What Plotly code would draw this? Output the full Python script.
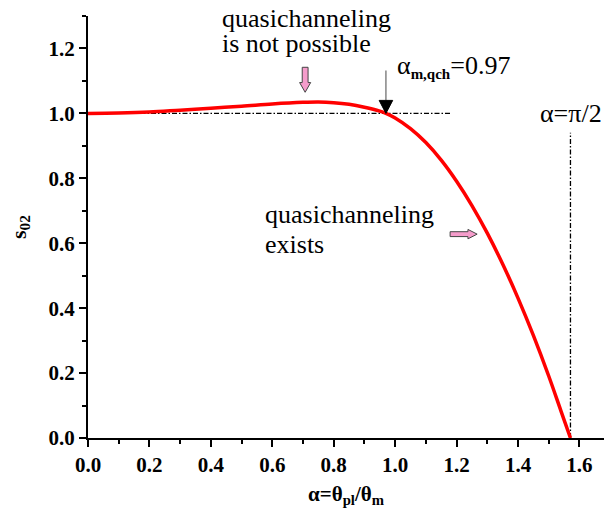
import plotly.graph_objects as go
import math

# --- data ---
alpha = [0.0, 0.1, 0.2, 0.3, 0.4, 0.5, 0.6, 0.7, 0.75, 0.8, 0.85, 0.9, 0.95, 0.97,
         1.0, 1.05, 1.1, 1.15, 1.2, 1.25, 1.3, 1.35, 1.4, 1.45, 1.5, 1.54, 1.5708]
s02 = [1.0, 1.001, 1.004, 1.010, 1.016, 1.022, 1.029, 1.034, 1.035, 1.033, 1.028,
       1.019, 1.007, 1.0, 0.986, 0.953, 0.910, 0.856, 0.791, 0.716, 0.631, 0.536,
       0.431, 0.316, 0.191, 0.083, 0.0]

alpha_mqch = 0.97
alpha_max = math.pi / 2
hline_x = [0.0, 1.18]
hline_y = 1.0
vline_top = 0.94

x_ticks = [0.0, 0.2, 0.4, 0.6, 0.8, 1.0, 1.2, 1.4, 1.6]
y_ticks = [0.0, 0.2, 0.4, 0.6, 0.8, 1.0, 1.2]

FONT = "Times New Roman, Liberation Serif, serif"
PINK = "#f59ccb"

fig = go.Figure()
fig.add_trace(go.Scatter(x=alpha, y=s02, mode="lines",
                         line=dict(color="#ff0000", width=3.5, shape="spline", smoothing=1.0),
                         showlegend=False, hoverinfo="skip"))

dash = "5px,2px,1.5px,2px"
shapes = [
    dict(type="line", xref="x", yref="y", x0=hline_x[0], x1=hline_x[1], y0=hline_y, y1=hline_y,
         line=dict(color="black", width=1.3, dash=dash), layer="below"),
    dict(type="line", xref="x", yref="y", x0=alpha_max, x1=alpha_max, y0=0, y1=vline_top,
         line=dict(color="black", width=1.3, dash=dash), layer="below"),
    # gray pointer line + black triangle at alpha_m,qch
    dict(type="line", xref="x", yref="y", x0=alpha_mqch, x1=alpha_mqch, y0=1.132, y1=1.04,
         line=dict(color="#666666", width=1.2)),
    dict(type="path", xref="x", yref="y",
         path=f"M {alpha_mqch-0.022},1.04 L {alpha_mqch+0.022},1.04 L {alpha_mqch},1.0 Z",
         fillcolor="black", line=dict(color="black", width=1)),
]

# pink down arrow
ax, y_top, y_tip = 0.707, 1.142, 1.065
sw, hw, hl = 0.0095, 0.018, 0.03
shapes.append(dict(type="path", xref="x", yref="y",
    path=(f"M {ax-sw},{y_top} L {ax+sw},{y_top} L {ax+sw},{y_tip+hl} L {ax+hw},{y_tip+hl} "
          f"L {ax},{y_tip} L {ax-hw},{y_tip+hl} L {ax-sw},{y_tip+hl} Z"),
    fillcolor=PINK, line=dict(color="#444444", width=1)))
# pink right arrow
rx0, rx1, ry = 1.179, 1.267, 0.628
sh, hh, hlx = 0.0075, 0.0145, 0.03
shapes.append(dict(type="path", xref="x", yref="y",
    path=(f"M {rx0},{ry-sh} L {rx1-hlx},{ry-sh} L {rx1-hlx},{ry-hh} L {rx1},{ry} "
          f"L {rx1-hlx},{ry+hh} L {rx1-hlx},{ry+sh} L {rx0},{ry+sh} Z"),
    fillcolor=PINK, line=dict(color="#444444", width=1)))

tf = dict(family=FONT, size=26, color="black")
annotations = [
    dict(x=0.43, y=1.291, text="quasichanneling", xanchor="left", yanchor="middle"),
    dict(x=0.43, y=1.214, text="is not possible", xanchor="left", yanchor="middle"),
    dict(x=1.0, y=1.145,
         text="α<sub><span style='font-size:15px;font-weight:bold'>m,qch</span></sub>=0.97",
         xanchor="left", yanchor="middle"),
    dict(x=1.466, y=1.0, text="α=π/2", xanchor="left", yanchor="middle"),
    dict(x=0.57, y=0.689, text="quasichanneling", xanchor="left", yanchor="middle"),
    dict(x=0.57, y=0.597, text="exists", xanchor="left", yanchor="middle"),
]
for a in annotations:
    a.update(xref="x", yref="y", showarrow=False, font=tf)

tickfont = dict(family=FONT, size=21, color="black", weight="bold")
fig.update_layout(
    width=604, height=511,
    margin=dict(l=88, r=0, t=16, b=73),
    paper_bgcolor="white", plot_bgcolor="white",
    font=dict(family=FONT),
    shapes=shapes, annotations=annotations,
    xaxis=dict(range=[0, 1.68], tickvals=x_ticks, ticktext=[f"{v:.1f}" for v in x_ticks],
               showline=True, linecolor="black", linewidth=2, ticks="outside",
               ticklen=7, tickwidth=2, tickcolor="black", showgrid=False, zeroline=False,
               tickfont=tickfont,
               minor=dict(dtick=0.1, ticks="outside", ticklen=4, tickwidth=2, tickcolor="black",
                          showgrid=False),
               title=dict(text="α=θ<sub>pl</sub>/θ<sub>m</sub>", standoff=10,
                          font=dict(family=FONT, size=21, color="black", weight="bold"))),
    yaxis=dict(range=[0, 1.3], tickvals=y_ticks, ticktext=[f"{v:.1f}" for v in y_ticks],
               showline=True, linecolor="black", linewidth=2, ticks="outside",
               ticklen=7, tickwidth=2, tickcolor="black", showgrid=False, zeroline=False,
               tickfont=tickfont,
               minor=dict(dtick=0.1, ticks="outside", ticklen=4, tickwidth=2, tickcolor="black",
                          showgrid=False),
               title=dict(text="s<sub>02</sub>", standoff=16,
                          font=dict(family=FONT, size=22, color="black", weight="bold"))),
)

fig.write_html("out.html")
